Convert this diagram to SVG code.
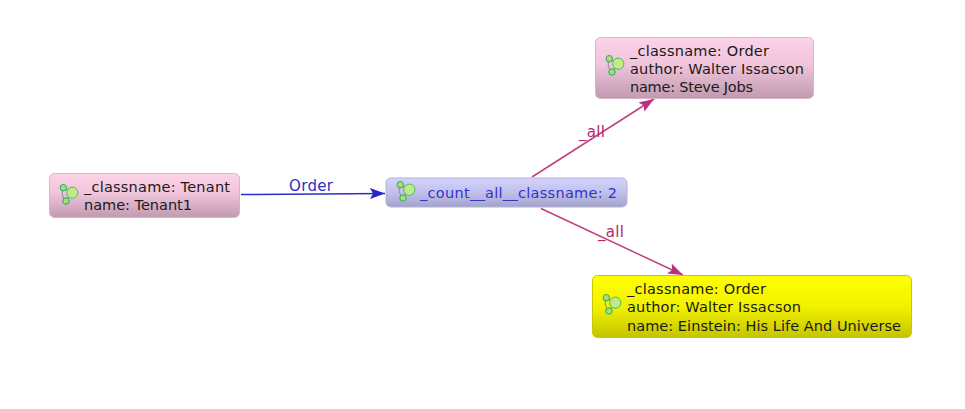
<svg xmlns="http://www.w3.org/2000/svg" xmlns:xlink="http://www.w3.org/1999/xlink" width="965" height="409" viewBox="0 0 965 409">
<style>
text{font-family:"DejaVu Sans","Liberation Sans",sans-serif;font-size:14.5px;fill:#1a1a1a}
.box{stroke-width:1}
.pink{fill:url(#pinkG);stroke:#d8b6c8}
.blue{fill:url(#blueG);stroke:#b2b2d8}
.yellow{fill:url(#yellowG);stroke:#c8c800}
.e{fill:none;stroke-width:1.5}
.m{stroke:#c0407f}
.b{stroke:#2e2ec4}
.lm{fill:#b8286f;font-size:15px}
.lb{fill:#2e2ec4;font-size:15px}
</style>
<defs>
<linearGradient id="pinkG" x1="0" y1="0" x2="0" y2="1"><stop offset="0" stop-color="#fdd3e9"/><stop offset=".45" stop-color="#f0c4da"/><stop offset="1" stop-color="#c09ab0"/></linearGradient>
<linearGradient id="blueG" x1="0" y1="0" x2="0" y2="1"><stop offset="0" stop-color="#d3d3fd"/><stop offset=".45" stop-color="#c2c2ee"/><stop offset="1" stop-color="#a4a4ca"/></linearGradient>
<linearGradient id="yellowG" x1="0" y1="0" x2="0" y2="1"><stop offset="0" stop-color="#ffff00"/><stop offset=".5" stop-color="#f2f200"/><stop offset="1" stop-color="#c4c400"/></linearGradient>
<marker id="am" markerUnits="userSpaceOnUse" markerWidth="18" markerHeight="12" refX="15" refY="5.500" orient="auto"><path d="M0 0L15 5.500L0 11L3 5.500Z" fill="#b8307a"/></marker>
<marker id="ab" markerUnits="userSpaceOnUse" markerWidth="18" markerHeight="12" refX="15" refY="5.500" orient="auto"><path d="M0 0L15 5.500L0 11L3 5.500Z" fill="#2626c4"/></marker>
<g id="ic">
<path d="M-2.700-7.300Q-6 0 0 6L6.300-2.300Z" fill="none" stroke="#999" stroke-width="1.200"/>
<circle cx="-2.700" cy="-7.300" r="3.200" fill="#a8e070" stroke="#22aa66"/>
<circle cx="0" cy="6" r="3.200" fill="#a8e070" stroke="#22aa66"/>
<circle cx="6.300" cy="-2.300" r="5.600" fill="#c4e88a" stroke="#3cc060"/>
</g>
</defs>
<rect width="965" height="409" fill="#fff"/>
<g id="connectors">
<path class="e b" d="M241 194.500L385 193.500" marker-end="url(#ab)"/>
<path class="e m" d="M532 177L654 99" marker-end="url(#am)"/>
<path class="e m" d="M541 208.500L683 275" marker-end="url(#am)"/>
<text class="lb" x="289" y="191" textLength="44">Order</text>
<text class="lm" x="579" y="137" textLength="26">_all</text>
<text class="lm" x="598" y="237" textLength="26">_all</text>
</g>
<g id="node-tenant">
<rect class="box pink" x="49.500" y="173.500" width="190" height="44" rx="5"/>
<use xlink:href="#ic" href="#ic" x="66" y="195"/>
<text x="84" y="192" textLength="146">_classname: Tenant</text>
<text x="84" y="210" textLength="108">name: Tenant1</text>
</g>
<g id="node-count">
<rect class="box blue" x="386" y="178" width="241" height="29" rx="5"/>
<use xlink:href="#ic" href="#ic" x="403" y="192"/>
<text x="420" y="198" textLength="197" style="fill:#3232cc">_count__all__classname: 2</text>
</g>
<g id="node-steve">
<rect class="box pink" x="595.500" y="37.500" width="218" height="61" rx="5"/>
<use xlink:href="#ic" href="#ic" x="612" y="66"/>
<text x="630" y="56" textLength="139">_classname: Order</text>
<text x="630" y="74" textLength="174">author: Walter Issacson</text>
<text x="630" y="92" textLength="123">name: Steve Jobs</text>
</g>
<g id="node-einstein">
<rect class="box yellow" x="592.500" y="275.500" width="319" height="62" rx="5"/>
<use xlink:href="#ic" href="#ic" x="609" y="305"/>
<text x="627" y="294" textLength="139">_classname: Order</text>
<text x="627" y="312" textLength="174">author: Walter Issacson</text>
<text x="627" y="331" textLength="274">name: Einstein: His Life And Universe</text>
</g>
</svg>
